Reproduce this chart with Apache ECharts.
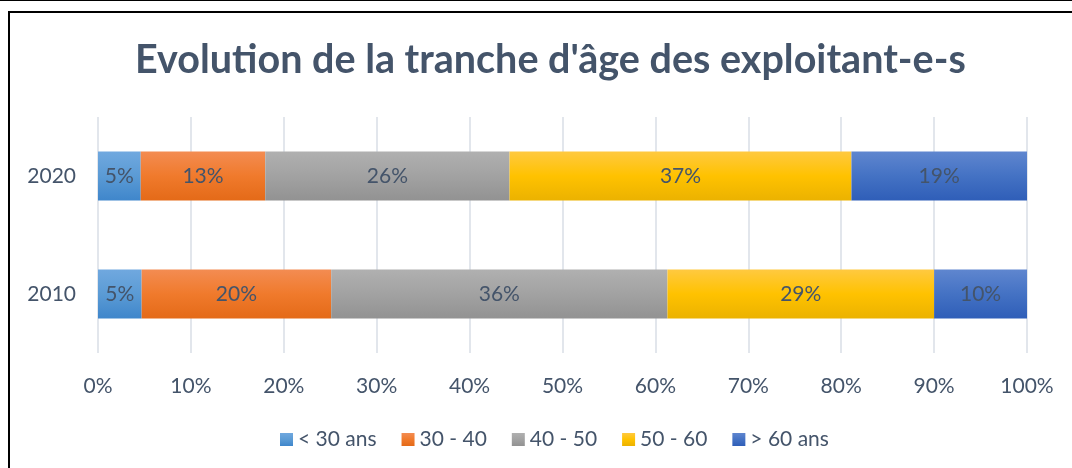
<!DOCTYPE html>
<html>
<head>
<meta charset="utf-8">
<script src="https://cdn.jsdelivr.net/npm/echarts@6/dist/echarts.min.js"></script>
<style>
  html, body { margin: 0; padding: 0; background: #ffffff; }
  #chart { width: 1072px; height: 468px; }
</style>
</head>
<body>
<div id="chart"></div>
<script>
const categories = ['2010', '2020'];
const seriesNames = ['< 30 ans', '30 - 40', '40 - 50', '50 - 60', '> 60 ans'];
const lt30 = [4.7, 4.6];
const age30to40 = [20.4, 13.4];
const age40to50 = [36.2, 26.3];
const age50to60 = [28.7, 36.8];
const gt60 = [10.0, 18.9];
const xTicks = [0, 10, 20, 30, 40, 50, 60, 70, 80, 90, 100];

const seriesValues = [lt30, age30to40, age40to50, age50to60, gt60];
const gradStops = [
  ['#70A8DF', '#5B9BD5', '#3F86CB'],
  ['#F38C52', '#F07A2C', '#E46A18'],
  ['#B0B0B0', '#A2A2A2', '#929292'],
  ['#FFC940', '#FFC200', '#EBB200'],
  ['#5F86CF', '#4472C4', '#2F5EB8']
];
function grad(c) {
  return new echarts.graphic.LinearGradient(0, 0, 0, 1, [
    { offset: 0, color: c[0] },
    { offset: 0.5, color: c[1] },
    { offset: 1, color: c[2] }
  ]);
}
const textColor = '#44546A';
const fontFamily = 'Lato, "Open Sans", sans-serif';

const chart = echarts.init(document.getElementById('chart'), null, { renderer: 'canvas' });
chart.setOption({
  animation: false,
  backgroundColor: '#ffffff',
  textStyle: { fontFamily: fontFamily },
  title: {
    text: "Evolution de la tranche d'âge des exploitant-e-s",
    left: 130,
    top: 35,
    textStyle: { fontFamily: fontFamily, fontWeight: 'bold', fontSize: 39.5, color: textColor }
  },
  graphic: [
    { type: 'line', shape: { x1: 0, y1: 0.5, x2: 1072, y2: 0.5 }, style: { stroke: '#000', lineWidth: 1 } },
    { type: 'line', shape: { x1: 8, y1: 12, x2: 1072, y2: 12 }, style: { stroke: '#000', lineWidth: 2 } },
    { type: 'line', shape: { x1: 9, y1: 11, x2: 9, y2: 468 }, style: { stroke: '#000', lineWidth: 2 } }
  ],
  grid: { left: 98, right: 45, top: 117, bottom: 115, containLabel: false },
  xAxis: {
    type: 'value',
    min: xTicks[0],
    max: xTicks[xTicks.length - 1],
    interval: 10,
    axisLine: { show: false },
    axisTick: { show: false },
    splitLine: { show: true, lineStyle: { color: '#D9DEE6', width: 1.5 } },
    axisLabel: { formatter: '{value}%', color: textColor, fontSize: 21, fontFamily: fontFamily, margin: 23 }
  },
  yAxis: {
    type: 'category',
    data: categories,
    axisLine: { show: false },
    axisTick: { show: false },
    axisLabel: { color: textColor, fontSize: 21, fontFamily: fontFamily, margin: 22 }
  },
  legend: {
    bottom: 13,
    left: 275,
    itemWidth: 13,
    itemHeight: 13,
    itemGap: 25,
    icon: 'rect',
    textStyle: { color: textColor, fontSize: 21, fontFamily: fontFamily },
    data: seriesNames
  },
  series: seriesNames.map((name, i) => ({
    name: name,
    type: 'bar',
    stack: 'total',
    barWidth: 49,
    data: seriesValues[i],
    itemStyle: { color: grad(gradStops[i]) },
    label: {
      show: true,
      position: 'inside',
      color: textColor,
      fontSize: 21,
      fontFamily: fontFamily,
      formatter: p => Math.round(p.value) + '%'
    }
  }))
});
</script>
</body>
</html>
